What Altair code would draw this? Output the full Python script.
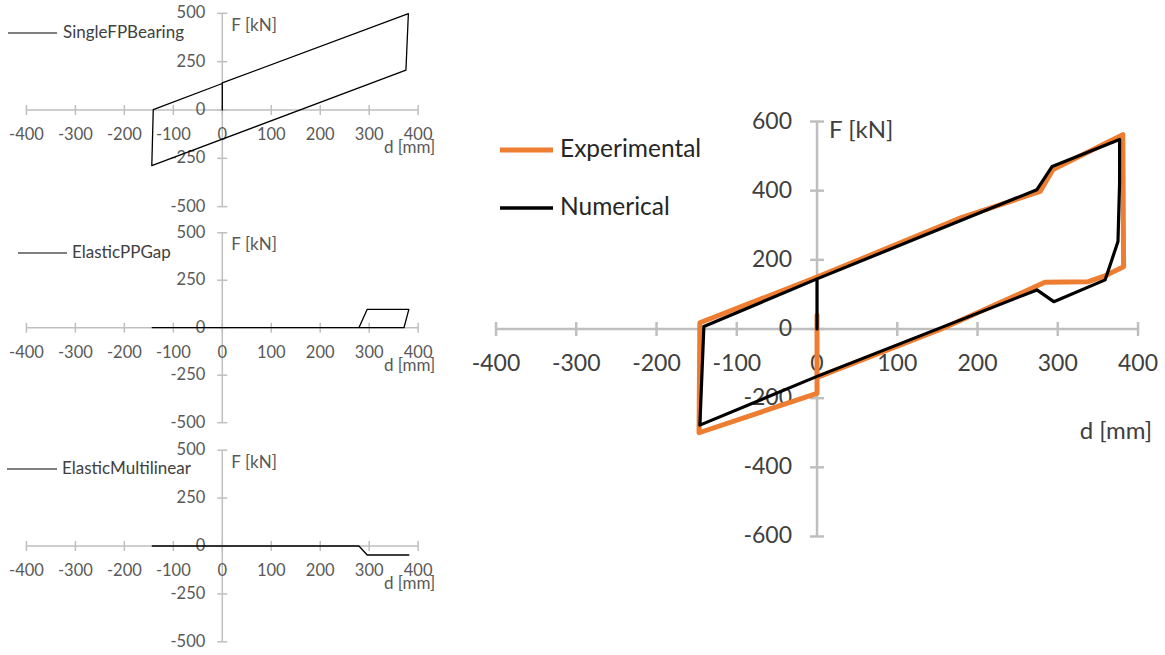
import altair as alt
import pandas as pd

# ---------------- data ----------------
x_ticks = [-400, -300, -200, -100, 0, 100, 200, 300, 400]
y_ticks_small = [-500, -250, 0, 250, 500]
y_ticks_big = [-600, -400, -200, 0, 200, 400, 600]
axis_titles = ["d [mm]", "F [kN]"]

small_names = ["SingleFPBearing", "ElasticPPGap", "ElasticMultilinear"]
sfp_d = [0, 0, 380, 375, -144, -141, 0]
sfp_f = [0, 140, 498, 206, -288, 2, 137]
gap_d = [-143, 279, 296, 381, 371, 279]
gap_f = [0, 0, 97, 97, 0, 0]
ml_d = [-143, 279, 296, 381]
ml_f = [0, 0, -47, -47]

big_names = ["Experimental", "Numerical"]
exp_d = [0, 0, -147, -146, 0, 180, 278, 294, 381, 382, 357, 338, 284, 155, 0]
exp_f = [40, -186, -300, 18, 150, 322, 398, 461, 562, 180, 152, 137, 135, 0, -140]
num_d = [0, 0, 274, 293, 377, 377, 375, 359, 295, 274, 0, -146, -141, 0]
num_f = [0, 145, 403, 470, 548, 422, 253, 142, 79, 113, -137, -278, 7, 145]

FONT = "Lato"
GRAY = "#bfbfbf"


def panel(w, h, xdom, ydom, yt, s, series, legend):
    xs = alt.Scale(domain=xdom, nice=False, zero=False)
    ys = alt.Scale(domain=ydom, nice=False, zero=False)

    def X(f):
        return alt.X(f, scale=xs, axis=None)

    def Y(f):
        return alt.Y(f, scale=ys, axis=None)

    ax = pd.DataFrame({"x1": [x_ticks[0], 0], "x2": [x_ticks[-1], 0],
                       "y1": [0, yt[0]], "y2": [0, yt[-1]]})
    lines = alt.Chart(ax).mark_rule(color=GRAY, strokeWidth=s["aw"]).encode(
        x=X("x1:Q"), x2="x2:Q", y=Y("y1:Q"), y2="y2:Q")
    xdf = pd.DataFrame({"v": x_ticks, "z": [0] * len(x_ticks), "t": [str(v) for v in x_ticks]})
    ydf = pd.DataFrame({"v": yt, "z": [0] * len(yt), "t": [str(v) for v in yt]})
    xtk = alt.Chart(xdf).mark_tick(orient="vertical", size=s["ts"], thickness=s["aw"],
                                   color=GRAY, opacity=1).encode(x=X("v:Q"), y=Y("z:Q"))
    ytk = alt.Chart(ydf).mark_tick(orient="horizontal", size=s["ts"], thickness=s["aw"],
                                   color=GRAY, opacity=1).encode(x=X("z:Q"), y=Y("v:Q"))
    xlab = alt.Chart(xdf).mark_text(font=FONT, fontSize=s["fs"], color=s["tc"], align="center",
                                    baseline="middle", dy=s["xdy"]).encode(
        x=X("v:Q"), y=Y("z:Q"), text="t:N")
    ylab = alt.Chart(ydf).mark_text(font=FONT, fontSize=s["fs"], color=s["tc"], align="right",
                                    baseline="middle", dx=s["ydx"]).encode(
        x=X("z:Q"), y=Y("v:Q"), text="t:N")
    ft = pd.DataFrame({"x": [0], "y": [yt[-1]], "t": [axis_titles[1]]})
    dt = pd.DataFrame({"x": [x_ticks[-1]], "y": [0], "t": [axis_titles[0]]})
    ftitle = alt.Chart(ft).mark_text(font=FONT, fontSize=s["tfs"], color=s["tc"], align="left",
                                     baseline="middle", dx=s["fdx"], dy=s["fdy"]).encode(
        x=X("x:Q"), y=Y("y:Q"), text="t:N")
    dtitle = alt.Chart(dt).mark_text(font=FONT, fontSize=s["tfs"], color=s["tc"], align="right",
                                     baseline="middle", dx=s["ddx"], dy=s["ddy"]).encode(
        x=X("x:Q"), y=Y("y:Q"), text="t:N")
    layers = [lines, xtk, ytk, xlab, ylab, ftitle, dtitle]
    for (d, f, color, sw) in series:
        df = pd.DataFrame({"d": d, "f": f, "i": list(range(len(d)))})
        layers.append(alt.Chart(df).mark_line(color=color, strokeWidth=sw, strokeJoin="round",
                                              strokeCap="round").encode(
            x=X("d:Q"), y=Y("f:Q"), order="i:Q"))
    for (name, color, sw, lx1, lx2, ly, tx, fs, tc) in legend:
        ldf = pd.DataFrame({"t": [name]})
        layers.append(alt.Chart(ldf).mark_rule(color=color, strokeWidth=sw).encode(
            x=alt.value(lx1), x2=alt.value(lx2), y=alt.value(ly)))
        layers.append(alt.Chart(ldf).mark_text(font=FONT, fontSize=fs, color=tc, align="left",
                                               baseline="middle").encode(
            x=alt.value(tx), y=alt.value(ly), text="t:N"))
    return alt.layer(*layers).properties(width=w, height=h)


small_style = dict(aw=1.5, ts=10, fs=16.5, tfs=17, tc="#595959", xdy=25, ydx=-17,
                   fdx=9, fdy=12.5, ddx=17, ddy=38)
big_style = dict(aw=2.5, ts=14, fs=23, tfs=24, tc="#404040", xdy=35, ydx=-25,
                 fdx=12, fdy=9, ddx=14, ddy=103)

sx = [-454.0, 444.6]
c1 = panel(440, 220, sx, [-569, 569], y_ticks_small, small_style,
           [(sfp_d, sfp_f, "black", 1.3)],
           [(small_names[0], "black", 1.2, 8, 57, 33, 63, 17, "#404040")])
c2 = panel(440, 220, sx, [-591, 567], y_ticks_small, small_style,
           [(gap_d, gap_f, "black", 1.3)],
           [(small_names[1], "black", 1.2, 18, 67, 33, 72, 17, "#404040")])
c3 = panel(440, 215, sx, [-568.6, 553], y_ticks_small, small_style,
           [(ml_d, ml_f, "black", 1.3)],
           [(small_names[2], "black", 1.2, 7, 57, 29, 62, 17, "#404040")])

big = panel(725, 655, [-469.8, 433.6], [-942.7, 951.4], y_ticks_big, big_style,
            [(exp_d, exp_f, "#ed7d31", 5), (num_d, num_f, "black", 3.2)],
            [(big_names[0], "#ed7d31", 5, 60, 113, 150, 120, 24.5, "#262626"),
             (big_names[1], "black", 3.5, 60, 113, 208, 120, 24.5, "#262626")])

left = alt.vconcat(c1, c2, c3, spacing=0)
chart = alt.hconcat(left, big, spacing=0).properties(
    padding=0).configure_view(stroke=None)

chart.save("out.html", embed_options={"renderer": "svg", "actions": False})
